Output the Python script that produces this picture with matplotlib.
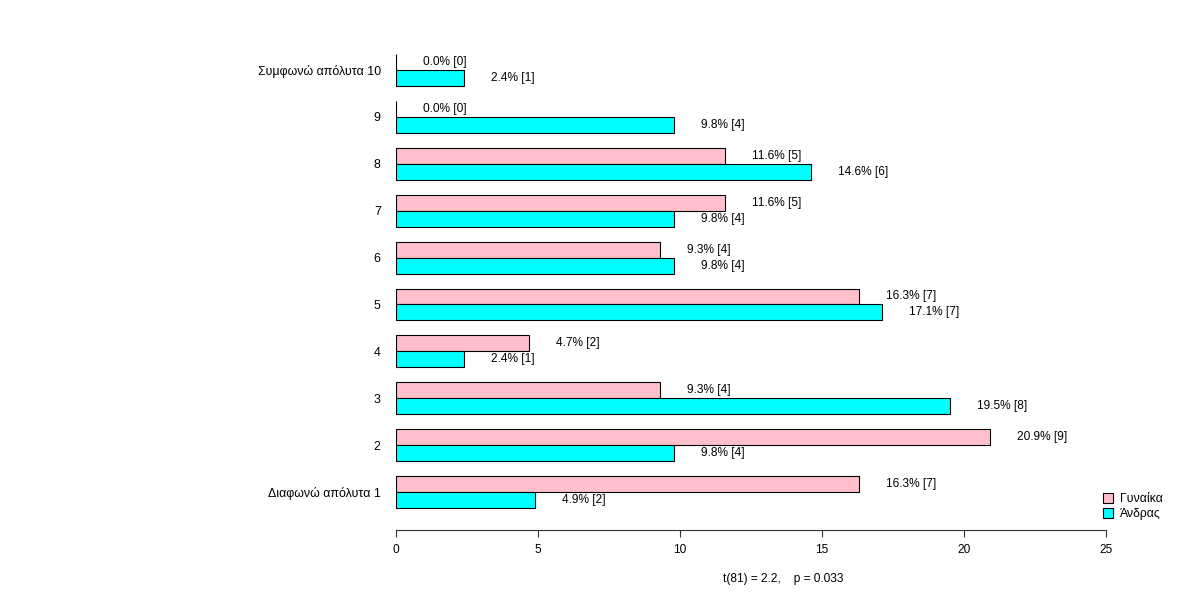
import matplotlib
matplotlib.use("Agg")
import matplotlib.pyplot as plt
import numpy as np

plt.rcParams['font.family'] = ['Liberation Sans', 'DejaVu Sans']

categories = ["Διαφωνώ απόλυτα 1", "2", "3", "4", "5", "6", "7", "8", "9", "Συμφωνώ απόλυτα 10"]
women_pct = [16.3, 20.9, 9.3, 4.7, 16.3, 9.3, 11.6, 11.6, 0.0, 0.0]
women_n = [7, 9, 4, 2, 7, 4, 5, 5, 0, 0]
men_pct = [4.9, 9.8, 19.5, 2.4, 17.1, 9.8, 9.8, 14.6, 9.8, 2.4]
men_n = [2, 4, 8, 1, 7, 4, 4, 6, 4, 1]
series_names = ["Γυναίκα", "Άνδρας"]
x_ticks = [0, 5, 10, 15, 20, 25]
caption = "t(81) = 2.2,    p = 0.033"

fig = plt.figure(figsize=(12, 6), dpi=100)
ax = fig.add_axes([396/1200, 1-530/600, 710/1200, 490/600])

y = np.arange(len(categories))
h = 0.34
b1 = ax.barh(y + h/2, women_pct, height=h, color='pink', edgecolor='black', linewidth=0.8, label=series_names[0])
b2 = ax.barh(y - h/2, men_pct, height=h, color='cyan', edgecolor='black', linewidth=0.8, label=series_names[1])

fs = 8.6
for yi, v, n in zip(y, women_pct, women_n):
    ax.text(v + 0.95, yi + h/2, f"{v:.1f}% [{n}]", ha='left', va='center', fontsize=fs)
for yi, v, n in zip(y, men_pct, men_n):
    ax.text(v + 0.95, yi - h/2, f"{v:.1f}% [{n}]", ha='left', va='center', fontsize=fs)

ax.set_xlim(0, 25)
ax.set_ylim(-0.81, 9.64)
ax.set_xticks(x_ticks)
ax.set_xticklabels([str(t) for t in x_ticks], fontsize=fs)
ax.set_yticks(y)
ax.set_yticklabels(categories, fontsize=8.9)
ax.tick_params(axis='y', length=0, pad=11)
ax.tick_params(axis='x', length=5, pad=5, width=0.8, color='#333333')
for s in ['top', 'right', 'left']:
    ax.spines[s].set_visible(False)
ax.spines['bottom'].set_color('#333333')
ax.spines['bottom'].set_linewidth(0.8)

leg = ax.legend(handles=[b1, b2], loc='upper left', bbox_to_anchor=(1097/1200, 1-487/600),
                bbox_transform=fig.transFigure, frameon=False, fontsize=8.8,
                handlelength=0.8, handleheight=0.8, handletextpad=0.6, labelspacing=0.25, borderpad=0)

fig.text(783/1200, 1-579/600, caption, ha='center', va='center', fontsize=fs)

fig.savefig("out.png", dpi=100)
